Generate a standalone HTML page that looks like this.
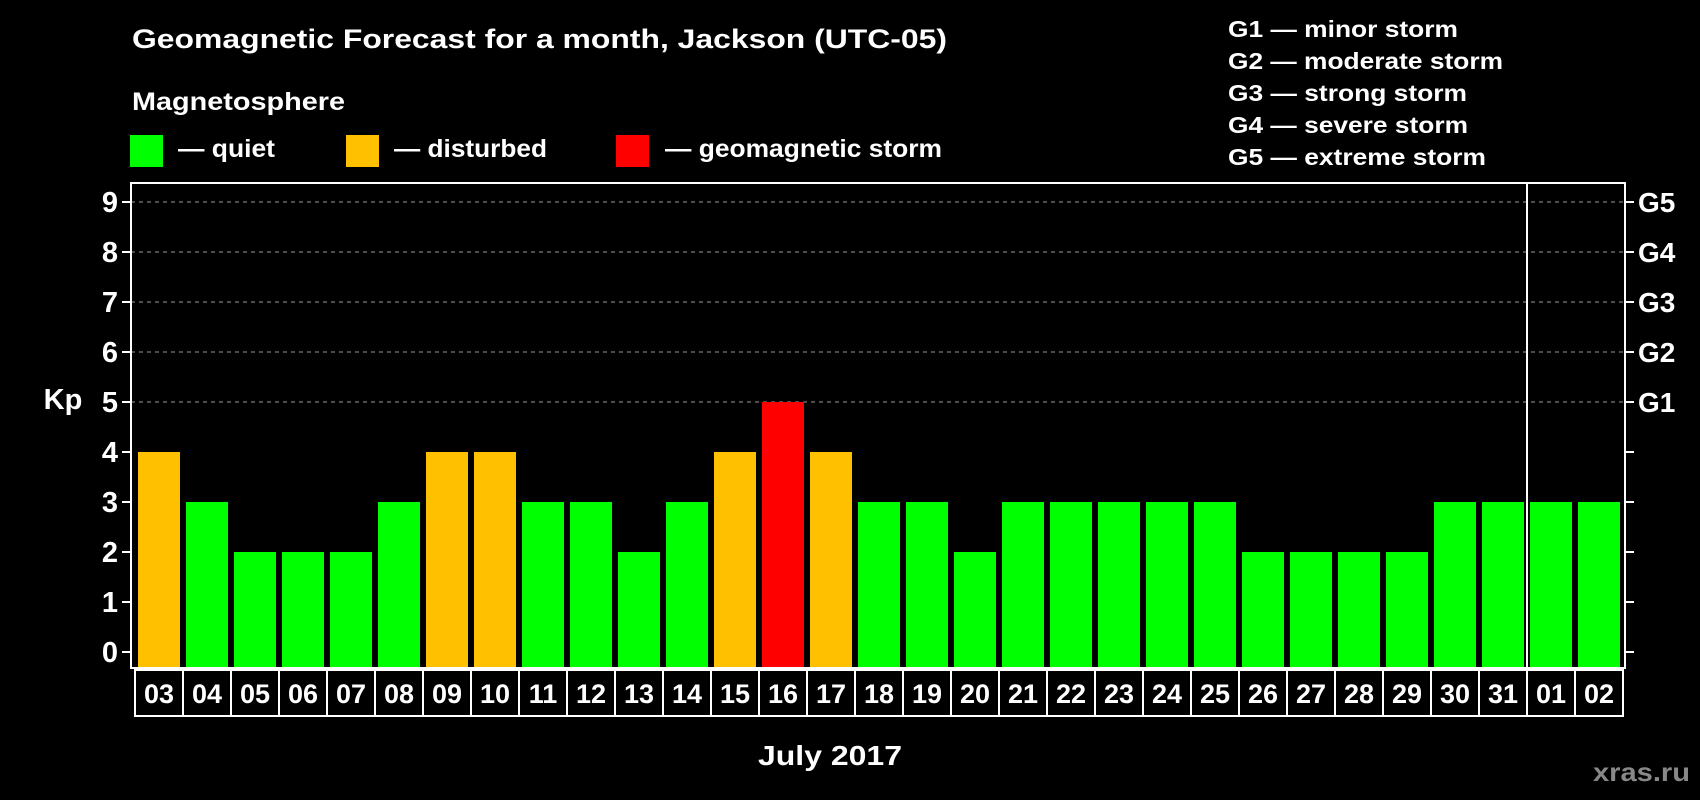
<!DOCTYPE html>
<html><head><meta charset="utf-8"><style>
html,body{margin:0;padding:0;background:#000;}
svg{display:block;font-family:"Liberation Sans",Arial,sans-serif;font-weight:bold;}
</style></head><body>
<svg id="chart" width="1700" height="800" viewBox="0 0 1700 800">
<rect x="0" y="0" width="1700" height="800" fill="#000"/>
<text x="132" y="48" fill="#fff" font-size="27" textLength="815" lengthAdjust="spacingAndGlyphs">Geomagnetic Forecast for a month, Jackson (UTC-05)</text>
<text x="132" y="110" fill="#fff" font-size="25" textLength="213" lengthAdjust="spacingAndGlyphs">Magnetosphere</text>
<g><rect x="130" y="135" width="33" height="32" fill="#00ff00"/><text x="178" y="157" fill="#fff" font-size="25" textLength="97" lengthAdjust="spacingAndGlyphs">— quiet</text></g>
<g><rect x="346" y="135" width="33" height="32" fill="#ffc000"/><text x="394" y="157" fill="#fff" font-size="25" textLength="153" lengthAdjust="spacingAndGlyphs">— disturbed</text></g>
<g><rect x="616" y="135" width="33" height="32" fill="#ff0000"/><text x="665" y="157" fill="#fff" font-size="25" textLength="277" lengthAdjust="spacingAndGlyphs">— geomagnetic storm</text></g>
<g fill="#fff" font-size="23">
<text x="1228" y="37" textLength="230" lengthAdjust="spacingAndGlyphs">G1 — minor storm</text>
<text x="1228" y="69" textLength="275" lengthAdjust="spacingAndGlyphs">G2 — moderate storm</text>
<text x="1228" y="101" textLength="239" lengthAdjust="spacingAndGlyphs">G3 — strong storm</text>
<text x="1228" y="133" textLength="240" lengthAdjust="spacingAndGlyphs">G4 — severe storm</text>
<text x="1228" y="165" textLength="258" lengthAdjust="spacingAndGlyphs">G5 — extreme storm</text>
</g>
<text x="63" y="409" fill="#fff" font-size="29" text-anchor="middle">Kp</text>
<text x="830" y="765" fill="#fff" font-size="28" text-anchor="middle" textLength="144" lengthAdjust="spacingAndGlyphs">July 2017</text>
<text x="1690" y="781" fill="#888" font-size="26" text-anchor="end" textLength="97" lengthAdjust="spacingAndGlyphs">xras.ru</text>
<g id="grid"></g><g id="bars"></g><g id="axes"></g>
</svg>
<script>
const days = ["03","04","05","06","07","08","09","10","11","12","13","14","15","16","17","18","19","20","21","22","23","24","25","26","27","28","29","30","31","01","02"];
const kpValues = [4,3,2,2,2,3,4,4,3,3,2,3,4,5,4,3,3,2,3,3,3,3,3,2,2,2,2,3,3,3,3];
const yTicks = [0,1,2,3,4,5,6,7,8,9];
const gLabels = ["","","","","","G1","G2","G3","G4","G5"];
const NS="http://www.w3.org/2000/svg";
const L=131,R=1625,T=183,B=668;
const y0=652, yUnit=(652-202)/9;
const yS=v=>y0-v*yUnit;
const slot=48, x0=138, bw=42;
const xS=i=>x0+i*slot;
const LT=670, LB=716;
function mk(tag,attrs,parent){const e=document.createElementNS(NS,tag);for(const k in attrs)e.setAttribute(k,attrs[k]);parent.appendChild(e);return e;}
const grid=document.getElementById('grid'),bars=document.getElementById('bars'),axes=document.getElementById('axes');
yTicks.forEach((v,i)=>{
  if(v>=5){const g=mk('line',{x1:L,x2:R,y1:yS(v),y2:yS(v),stroke:'#999','stroke-width':1,'stroke-dasharray':'4,4'},grid);
  
  }
  const t1=mk('line',{x1:L-9,x2:L,y1:yS(v),y2:yS(v),stroke:'#fff','stroke-width':2},axes);
  
  
  const t2=mk('line',{x1:R,x2:R+9,y1:yS(v),y2:yS(v),stroke:'#fff','stroke-width':2},axes);
  
  
  const lb=mk('text',{x:L-13,y:yS(v)+10,fill:'#fff','font-size':29,'text-anchor':'end'},axes);lb.textContent=v;
  
  
  if(gLabels[i]){const gl=mk('text',{x:R+13,y:yS(v)+10,fill:'#fff','font-size':28},axes);gl.textContent=gLabels[i];
  
  }
});
kpValues.forEach((v,i)=>{
  const c=v>=5?'#ff0000':(v>=4?'#ffc000':'#00ff00');
  const b=mk('rect',{x:xS(i),y:yS(v),width:bw,height:B-yS(v),fill:c},bars);
  
  
});
const fr=mk('rect',{x:L,y:T,width:R-L,height:B-T,fill:'none',stroke:'#fff','stroke-width':2},axes);


const sepX=(xS(28)+bw+xS(29))/2;
const sep=mk('line',{x1:sepX,x2:sepX,y1:T,y2:LB,stroke:'#fff','stroke-width':2},axes);


const bx=mk('rect',{x:135,y:LT,width:1488,height:LB-LT,fill:'none',stroke:'#fff','stroke-width':2},axes);


days.forEach((d,i)=>{
  if(i>0){const ln=mk('line',{x1:135+i*slot,x2:135+i*slot,y1:LT,y2:LB,stroke:'#fff','stroke-width':2},axes);
  
  }
  const t=mk('text',{x:xS(i)+bw/2,y:703,fill:'#fff','font-size':27,'text-anchor':'middle'},axes);t.textContent=d;
  
  
});
</script>
</body></html>
